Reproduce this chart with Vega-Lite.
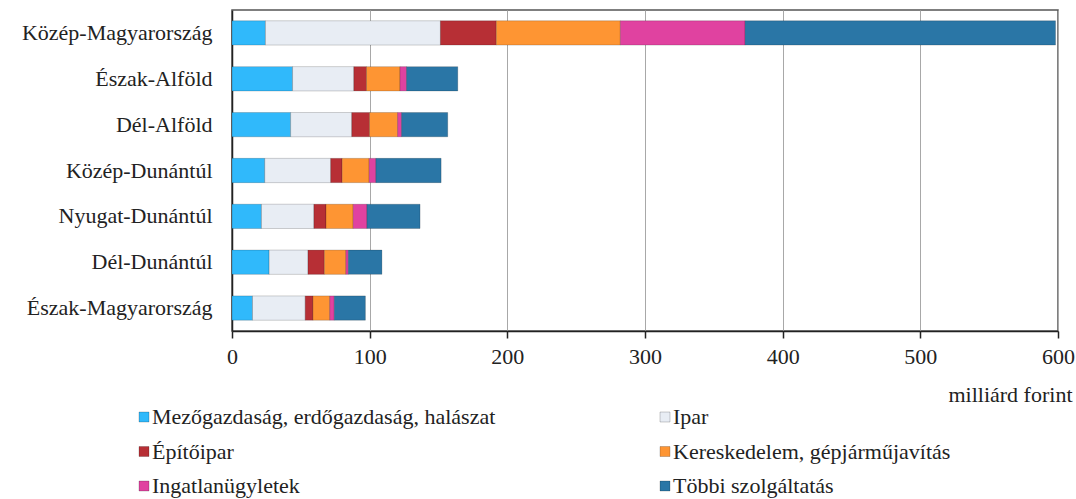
{
  "$schema": "https://vega.github.io/schema/vega-lite/v6.json",
  "autosize": {"type": "none"},
  "width": 826,
  "height": 321,
  "padding": {"left": 232, "top": 10, "right": 18, "bottom": 168},
  "background": "white",
  "config": {
    "font": "'Liberation Serif', 'DejaVu Serif', serif",
    "view": {"stroke": "#555", "strokeWidth": 1.5},
    "axis": {"labelFont": "'Liberation Serif', 'DejaVu Serif', serif", "titleFont": "'Liberation Serif', 'DejaVu Serif', serif", "labelColor": "#222", "titleColor": "#222"},
    "legend": {"labelFont": "'Liberation Serif', 'DejaVu Serif', serif"}
  },
  "data": {"values": [
    {"r": "Közép-Magyarország", "s": "Mezőgazdaság, erdőgazdaság, halászat", "o": 1, "v": 24.3},
    {"r": "Közép-Magyarország", "s": "Ipar", "o": 2, "v": 127.1},
    {"r": "Közép-Magyarország", "s": "Építőipar", "o": 3, "v": 40.6},
    {"r": "Közép-Magyarország", "s": "Kereskedelem, gépjárműjavítás", "o": 4, "v": 90.1},
    {"r": "Közép-Magyarország", "s": "Ingatlanügyletek", "o": 5, "v": 90.6},
    {"r": "Közép-Magyarország", "s": "Többi szolgáltatás", "o": 6, "v": 225.5},
    {"r": "Észak-Alföld", "s": "Mezőgazdaság, erdőgazdaság, halászat", "o": 1, "v": 44.0},
    {"r": "Észak-Alföld", "s": "Ipar", "o": 2, "v": 44.5},
    {"r": "Észak-Alföld", "s": "Építőipar", "o": 3, "v": 9.2},
    {"r": "Észak-Alföld", "s": "Kereskedelem, gépjárműjavítás", "o": 4, "v": 24.3},
    {"r": "Észak-Alföld", "s": "Ingatlanügyletek", "o": 5, "v": 4.8},
    {"r": "Észak-Alföld", "s": "Többi szolgáltatás", "o": 6, "v": 37.2},
    {"r": "Dél-Alföld", "s": "Mezőgazdaság, erdőgazdaság, halászat", "o": 1, "v": 42.6},
    {"r": "Dél-Alföld", "s": "Ipar", "o": 2, "v": 44.4},
    {"r": "Dél-Alföld", "s": "Építőipar", "o": 3, "v": 12.9},
    {"r": "Dél-Alföld", "s": "Kereskedelem, gépjárműjavítás", "o": 4, "v": 20.4},
    {"r": "Dél-Alföld", "s": "Ingatlanügyletek", "o": 5, "v": 2.9},
    {"r": "Dél-Alföld", "s": "Többi szolgáltatás", "o": 6, "v": 33.5},
    {"r": "Közép-Dunántúl", "s": "Mezőgazdaság, erdőgazdaság, halászat", "o": 1, "v": 23.8},
    {"r": "Közép-Dunántúl", "s": "Ipar", "o": 2, "v": 47.9},
    {"r": "Közép-Dunántúl", "s": "Építőipar", "o": 3, "v": 8.3},
    {"r": "Közép-Dunántúl", "s": "Kereskedelem, gépjárműjavítás", "o": 4, "v": 19.6},
    {"r": "Közép-Dunántúl", "s": "Ingatlanügyletek", "o": 5, "v": 4.9},
    {"r": "Közép-Dunántúl", "s": "Többi szolgáltatás", "o": 6, "v": 47.4},
    {"r": "Nyugat-Dunántúl", "s": "Mezőgazdaság, erdőgazdaság, halászat", "o": 1, "v": 21.4},
    {"r": "Nyugat-Dunántúl", "s": "Ipar", "o": 2, "v": 38.1},
    {"r": "Nyugat-Dunántúl", "s": "Építőipar", "o": 3, "v": 8.8},
    {"r": "Nyugat-Dunántúl", "s": "Kereskedelem, gépjárműjavítás", "o": 4, "v": 19.7},
    {"r": "Nyugat-Dunántúl", "s": "Ingatlanügyletek", "o": 5, "v": 10.0},
    {"r": "Nyugat-Dunántúl", "s": "Többi szolgáltatás", "o": 6, "v": 38.6},
    {"r": "Dél-Dunántúl", "s": "Mezőgazdaság, erdőgazdaság, halászat", "o": 1, "v": 27.0},
    {"r": "Dél-Dunántúl", "s": "Ipar", "o": 2, "v": 28.2},
    {"r": "Dél-Dunántúl", "s": "Építőipar", "o": 3, "v": 11.9},
    {"r": "Dél-Dunántúl", "s": "Kereskedelem, gépjárműjavítás", "o": 4, "v": 15.6},
    {"r": "Dél-Dunántúl", "s": "Ingatlanügyletek", "o": 5, "v": 1.8},
    {"r": "Dél-Dunántúl", "s": "Többi szolgáltatás", "o": 6, "v": 24.4},
    {"r": "Észak-Magyarország", "s": "Mezőgazdaság, erdőgazdaság, halászat", "o": 1, "v": 14.9},
    {"r": "Észak-Magyarország", "s": "Ipar", "o": 2, "v": 38.3},
    {"r": "Észak-Magyarország", "s": "Építőipar", "o": 3, "v": 5.6},
    {"r": "Észak-Magyarország", "s": "Kereskedelem, gépjárműjavítás", "o": 4, "v": 12.2},
    {"r": "Észak-Magyarország", "s": "Ingatlanügyletek", "o": 5, "v": 3.3},
    {"r": "Észak-Magyarország", "s": "Többi szolgáltatás", "o": 6, "v": 22.6}
  ]},
  "mark": {"type": "bar", "stroke": "#000", "strokeOpacity": 0.18, "strokeWidth": 1},
  "encoding": {
    "y": {
      "field": "r", "type": "nominal", "sort": null,
      "scale": {"paddingInner": 0.47, "paddingOuter": 0.235},
      "axis": {"title": null, "ticks": false, "labelFontSize": 22, "labelPadding": 20, "domainColor": "#222", "domainWidth": 1.5, "labelLimit": 300}
    },
    "x": {
      "field": "v", "type": "quantitative", "stack": "zero",
      "scale": {"domain": [0, 600], "nice": false},
      "axis": {
        "values": [0, 100, 200, 300, 400, 500, 600],
        "title": "milliárd forint", "titleFontSize": 22, "titleFontWeight": "normal",
        "titleAnchor": "end", "titleAlign": "right", "titleX": 840, "titleY": 70, "titleBaseline": "alphabetic",
        "labelFontSize": 22, "labelPadding": 8, "tickSize": 7, "tickColor": "#222", "tickWidth": 1.5,
        "domainColor": "#222", "domainWidth": 1.5,
        "gridColor": "#a8a8a8", "gridWidth": 1, "labelFlush": false
      }
    },
    "color": {
      "field": "s", "type": "nominal",
      "scale": {
        "domain": ["Mezőgazdaság, erdőgazdaság, halászat", "Ipar", "Építőipar", "Kereskedelem, gépjárműjavítás", "Ingatlanügyletek", "Többi szolgáltatás"],
        "range": ["#30b9fb", "#e8edf4", "#b72f35", "#fe9533", "#e042a0", "#2a76a6"]
      },
      "legend": {
        "title": null, "orient": "none", "legendX": -99, "legendY": 396,
        "direction": "horizontal", "columns": 2, "columnPadding": 158, "rowPadding": 12.5,
        "labelFontSize": 22, "labelColor": "#222", "labelLimit": 500, "labelOffset": -3,
        "symbolType": "square", "symbolSize": 100, "symbolStrokeColor": "#0003", "symbolStrokeWidth": 1, "padding": 0
      }
    },
    "order": {"field": "o", "type": "quantitative"}
  }
}
